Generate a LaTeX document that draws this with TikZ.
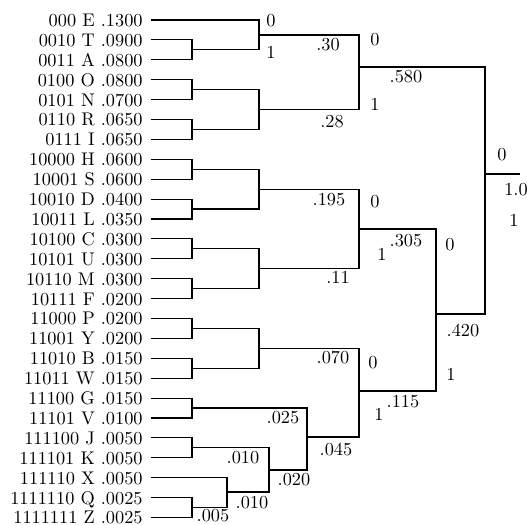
\documentclass[tikz,border=0pt]{standalone}
\usepackage{amsmath}
\usepackage{tikz}
\begin{document}
\begin{tikzpicture}[x=0.546pt,y=-0.546pt,
    leaf/.style={anchor=east,inner xsep=4.4pt,inner ysep=0pt,text height=7pt,text depth=0pt},
    lbl/.style={inner sep=0pt},
    tree/.style={black,line width=0.65pt}]
                \useasboundingbox (0,0) rectangle (527,525);
                % leaves
                \node[leaf] (E) at (151,20.0) {000 E .1300};
                \node[leaf] (T) at (151,39.9) {0010 T .0900};
                \node[leaf] (A) at (151,59.8) {0011 A .0800};
                \node[leaf] (O) at (151,79.7) {0100 O .0800};
                \node[leaf] (N) at (151,99.6) {0101 N .0700};
                \node[leaf] (R) at (151,119.5) {0110 R .0650};
                \node[leaf] (I) at (151,139.4) {0111 I .0650};
                \node[leaf] (H) at (151,159.3) {10000 H .0600};
                \node[leaf] (S) at (151,179.2) {10001 S .0600};
                \node[leaf] (D) at (151,199.1) {10010 D .0400};
                \node[leaf] (L) at (151,219.0) {10011 L .0350};
                \node[leaf] (C) at (151,238.9) {10100 C .0300};
                \node[leaf] (U) at (151,258.8) {10101 U .0300};
                \node[leaf] (M) at (151,278.7) {10110 M .0300};
                \node[leaf] (F) at (151,298.6) {10111 F .0200};
                \node[leaf] (P) at (151,318.5) {11000 P .0200};
                \node[leaf] (Y) at (151,338.4) {11001 Y .0200};
                \node[leaf] (B) at (151,358.3) {11010 B .0150};
                \node[leaf] (W) at (151,378.2) {11011 W .0150};
                \node[leaf] (G) at (151,398.1) {11100 G .0150};
                \node[leaf] (V) at (151,418.0) {11101 V .0100};
                \node[leaf] (J) at (151,437.9) {111100 J .0050};
                \node[leaf] (K) at (151,457.8) {111101 K .0050};
                \node[leaf] (X) at (151,477.7) {111110 X .0050};
                \node[leaf] (Q) at (151,497.6) {1111110 Q .0025};
                \node[leaf] (Z) at (151,517.5) {1111111 Z .0025};
                % joins
                \coordinate (TA) at (192,49.9);
                \coordinate (n30) at (259,35);
                \coordinate (ON) at (192,89.6);
                \coordinate (RI) at (192,129.4);
                \coordinate (n28) at (259,109.5);
                \coordinate (n580) at (359,67);
                \coordinate (HS) at (192,169.2);
                \coordinate (DL) at (192,209);
                \coordinate (n195) at (259,189.1);
                \coordinate (CU) at (192,248.8);
                \coordinate (MF) at (192,288.6);
                \coordinate (n11) at (259,268.7);
                \coordinate (n305) at (359,229);
                \coordinate (PY) at (192,328.4);
                \coordinate (BW) at (192,368.2);
                \coordinate (n070) at (259,348.3);
                \coordinate (n025) at (192,408);
                \coordinate (n010a) at (192,447.8);
                \coordinate (n005) at (192,507.5);
                \coordinate (n010b) at (227,492);
                \coordinate (n020) at (269,470);
                \coordinate (n045) at (307,437);
                \coordinate (n115) at (359,391);
                \coordinate (n420) at (436,314);
                \coordinate (root) at (485,174);
                \coordinate (rootend) at (520,174);
                % tree
                \draw[tree] (T.east) -| (TA) |- (A.east);
                \draw[tree] (E.east) -| (n30) |- (TA);
                \draw[tree] (O.east) -| (ON) |- (N.east);
                \draw[tree] (R.east) -| (RI) |- (I.east);
                \draw[tree] (ON) -| (n28) |- (RI);
                \draw[tree] (n30) -| (n580) |- (n28);
                \draw[tree] (H.east) -| (HS) |- (S.east);
                \draw[tree] (D.east) -| (DL) |- (L.east);
                \draw[tree] (HS) -| (n195) |- (DL);
                \draw[tree] (C.east) -| (CU) |- (U.east);
                \draw[tree] (M.east) -| (MF) |- (F.east);
                \draw[tree] (CU) -| (n11) |- (MF);
                \draw[tree] (n195) -| (n305) |- (n11);
                \draw[tree] (P.east) -| (PY) |- (Y.east);
                \draw[tree] (B.east) -| (BW) |- (W.east);
                \draw[tree] (PY) -| (n070) |- (BW);
                \draw[tree] (G.east) -| (n025) |- (V.east);
                \draw[tree] (J.east) -| (n010a) |- (K.east);
                \draw[tree] (Q.east) -| (n005) |- (Z.east);
                \draw[tree] (X.east) -| (n010b) |- (n005);
                \draw[tree] (n010a) -| (n020) |- (n010b);
                \draw[tree] (n025) -| (n045) |- (n020);
                \draw[tree] (n070) -| (n115) |- (n045);
                \draw[tree] (n305) -| (n420) |- (n115);
                \draw[tree] (n580) -| (root) |- (n420);
                \draw[tree] (root) -- (rootend);
                % weights
                \node[lbl] (l30) at (328,45) {.30};
                \node[lbl] (l28) at (332,122) {.28};
                \node[lbl] (l580) at (406,77) {.580};
                \node[lbl] (l10) at (516,190) {1.0};
                \node[lbl] (l195) at (329,200) {.195};
                \node[lbl] (l11) at (338,277) {.11};
                \node[lbl] (l305) at (406,241) {.305};
                \node[lbl] (l420) at (463,331) {.420};
                \node[lbl] (l070) at (333,358) {.070};
                \node[lbl] (l115) at (403,402) {.115};
                \node[lbl] (l025) at (283,418) {.025};
                \node[lbl] (l045) at (336,450) {.045};
                \node[lbl] (l010a) at (243,458) {.010};
                \node[lbl] (l020) at (294,480) {.020};
                \node[lbl] (l010b) at (252,503) {.010};
                \node[lbl] (l005) at (213,516) {.005};
                % bits
                \node[lbl] (b0a) at (271,21) {0};
                \node[lbl] (b1a) at (271,52) {1};
                \node[lbl] (b0b) at (375,40) {0};
                \node[lbl] (b1b) at (375,104) {1};
                \node[lbl] (b0c) at (502,155) {0};
                \node[lbl] (b1c) at (514,220) {1};
                \node[lbl] (b0d) at (375,202) {0};
                \node[lbl] (b1d) at (382,254) {1};
                \node[lbl] (b0e) at (450,245) {0};
                \node[lbl] (b1e) at (451,374) {1};
                \node[lbl] (b0f) at (373,363) {0};
                \node[lbl] (b1f) at (379,414) {1};
            \end{tikzpicture}
\end{document}
